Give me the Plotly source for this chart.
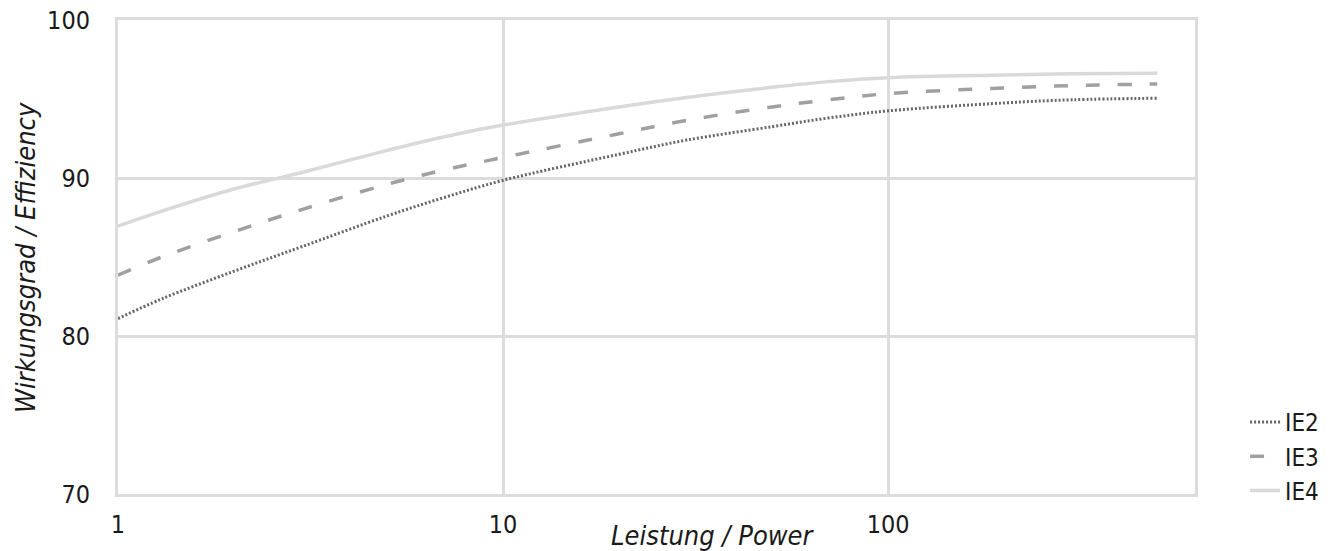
import plotly.graph_objects as go

power_kw = [1, 1.3, 2, 3, 5, 7, 10, 20, 30, 50, 70, 100, 200, 300, 500]
ie2 = [81.1, 82.35, 84.1, 85.65, 87.6, 88.75, 89.85, 91.5, 92.4, 93.25, 93.8, 94.25, 94.75, 94.95, 95.05]
ie3 = [83.85, 85.0, 86.6, 88.0, 89.6, 90.5, 91.3, 92.8, 93.65, 94.5, 94.95, 95.34, 95.7, 95.85, 95.95]
ie4 = [86.95, 87.9, 89.3, 90.35, 91.75, 92.6, 93.35, 94.5, 95.1, 95.74, 96.1, 96.35, 96.52, 96.6, 96.63]

series_names = ["IE2", "IE3", "IE4"]
x_tick_vals = [1, 10, 100]
x_tick_text = ["1", "10", "100"]
y_tick_vals = [70, 80, 90, 100]

FONT = "Liberation Sans Narrow, DejaVu Sans Condensed, Roboto, sans-serif"
GRID = "#dcdcdc"
TXT = "#1a1a1a"

fig = go.Figure()
styles = [
    dict(color="#666666", width=3, dash="2px,2px"),
    dict(color="#a0a0a0", width=3.5, dash="14px,18px"),
    dict(color="#d9d9d9", width=3.5, dash="solid"),
]
for name, ys, st in zip(series_names, [ie2, ie3, ie4], styles):
    fig.add_trace(go.Scatter(x=power_kw, y=ys, mode="lines", name=name,
                             line=dict(shape="spline", smoothing=1.0, **st)))

# page body has an 8px default margin, so the figure is sized to fit the window
fig.update_layout(
    width=1325, height=543,
    margin=dict(l=110, r=138, t=12, b=57, autoexpand=False),
    paper_bgcolor="white", plot_bgcolor="white",
    font=dict(family=FONT, size=24, color=TXT),
    showlegend=True,
    legend=dict(x=1.0465, xanchor="left", y=-0.04, yanchor="bottom",
                font=dict(size=24, color=TXT), tracegroupgap=0,
                itemwidth=30, bgcolor="rgba(0,0,0,0)"),
    xaxis=dict(type="log", range=[0, 2.797], tickvals=x_tick_vals, ticktext=x_tick_text,
               showgrid=True, gridcolor=GRID, gridwidth=3, automargin=False,
               showline=True, linecolor=GRID, linewidth=3, mirror=True,
               ticks="outside", ticklen=6, tickcolor="rgba(0,0,0,0)",
               ticklabeloverflow="allow",
               zeroline=False, tickfont=dict(size=25)),
    yaxis=dict(range=[70, 100], tickvals=y_tick_vals, automargin=False,
               showgrid=True, gridcolor=GRID, gridwidth=3,
               showline=True, linecolor=GRID, linewidth=3, mirror=True,
               ticks="outside", ticklen=20, tickcolor="rgba(0,0,0,0)",
               ticklabeloverflow="allow",
               zeroline=False, tickfont=dict(size=25)),
)

fig.add_annotation(text="<i>Leistung / Power</i>", xref="paper", yref="paper",
                   x=0.5525, y=-0.0865, xanchor="center", yanchor="middle",
                   showarrow=False, font=dict(size=27, color=TXT, family=FONT))
fig.add_annotation(text="<i>Wirkungsgrad / Effiziency</i>", xref="paper", yref="paper",
                   x=-0.0864, y=0.5, xanchor="center", yanchor="middle", textangle=-90,
                   showarrow=False, font=dict(size=27, color=TXT, family=FONT))

fig.write_html("out.html")
